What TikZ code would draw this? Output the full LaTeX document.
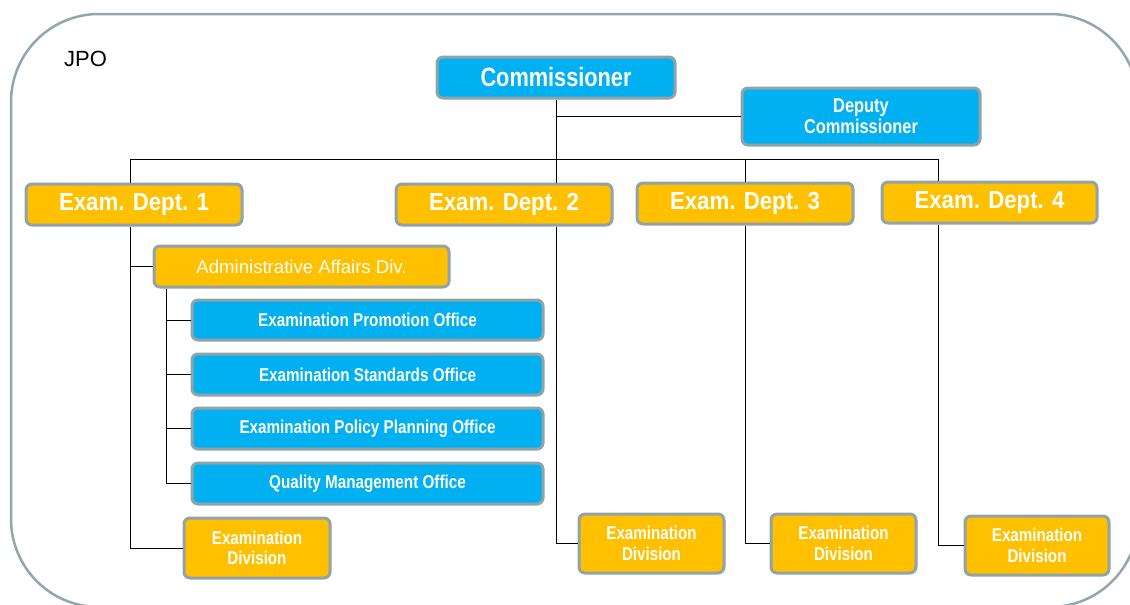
\documentclass[tikz,border=0pt]{standalone}
\usepackage{fontspec}
\setmainfont{Liberation Sans}
\newfontfamily\condb[FakeStretch=0.82]{Liberation Sans}
\newfontfamily\condd[FakeStretch=0.9]{Liberation Sans}
\definecolor{boxblue}{HTML}{00B0F0}
\definecolor{boxyellow}{HTML}{FFC000}
\definecolor{boxedge}{HTML}{8FA3A8}
\definecolor{outeredge}{HTML}{8FA8AD}
\tikzset{
  box/.style={rectangle, rounded corners=6pt, draw=boxedge, line width=3pt, inner sep=0pt, text=white, align=center},
  bluebox/.style={box, fill=boxblue},
  yelbox/.style={box, fill=boxyellow},
  conn/.style={draw=black, line width=1pt},
  fcomm/.style={font=\condb\bfseries\fontsize{26.5}{30}\selectfont},
  fdep/.style={font=\condb\bfseries\fontsize{20}{21}\selectfont},
  fdept/.style={font=\condd\bfseries\fontsize{24.7}{28}\selectfont},
  foff/.style={font=\condb\bfseries\fontsize{18.6}{20}\selectfont},
  fdiv/.style={font=\condb\bfseries\fontsize{18.5}{20.5}\selectfont},
  fadm/.style={font=\fontsize{18.6}{20}\selectfont},
}
\begin{document}
\begin{tikzpicture}[x=1pt,y=-1pt]
\useasboundingbox (0,0) rectangle (1130,605);
\draw[outeredge, line width=2.5pt, rounded corners=88pt] (11,14) rectangle (1138,607);
\node[text=black, inner sep=0pt, font=\fontsize{22}{24}\selectfont] (jpo) at (85.5,58.5) {JPO};

% connectors (drawn first, under the boxes)
\coordinate (busL) at (130,159);
\coordinate (busR) at (938,159);
\coordinate (ax) at (166,0);

\node[bluebox, fcomm, minimum width=238pt, minimum height=41pt] (comm) at (556,77.5) {Commissioner};
\node[bluebox, fdep, minimum width=238pt, minimum height=57pt] (dep) at (861,116.5) {Deputy\\Commissioner};

\node[yelbox, fdept, minimum width=216pt, minimum height=41pt] (d1) at (134,204.5) {Exam. Dept. 1};
\node[yelbox, fdept, minimum width=216pt, minimum height=41pt] (d2) at (504,204.5) {Exam. Dept. 2};
\node[yelbox, fdept, minimum width=216pt, minimum height=41pt] (d3) at (745,203.5) {Exam. Dept. 3};
\node[yelbox, fdept, minimum width=215pt, minimum height=41pt] (d4) at (989.5,202.5) {Exam. Dept. 4};

\node[yelbox, fadm, minimum width=295pt, minimum height=41pt] (adm) at (301.5,266.5) {Administrative Affairs Div.};

\node[bluebox, foff, minimum width=351pt, minimum height=40pt] (o1) at (367.5,320) {Examination Promotion Office};
\node[bluebox, foff, minimum width=351pt, minimum height=41pt] (o2) at (367.5,374.5) {Examination Standards Office};
\node[bluebox, foff, minimum width=351pt, minimum height=41pt] (o3) at (367.5,428.5) {Examination Policy Planning Office};
\node[bluebox, foff, minimum width=351pt, minimum height=41pt] (o4) at (367.5,483.5) {Quality Management Office};

\node[yelbox, fdiv, minimum width=146pt, minimum height=60pt] (ed1) at (257,548) {Examination\\Division};
\node[yelbox, fdiv, minimum width=145pt, minimum height=59pt] (ed2) at (651.5,543.5) {Examination\\Division};
\node[yelbox, fdiv, minimum width=145pt, minimum height=59pt] (ed3) at (843.5,543.5) {Examination\\Division};
\node[yelbox, fdiv, minimum width=144pt, minimum height=59pt] (ed4) at (1037,545.5) {Examination\\Division};

\draw[conn] (comm.south) -- (comm.south |- d2.north);
\draw[conn] (comm.south |- dep.west) -- (dep.west);
\draw[conn] (busL |- d1.north) -- (busL) -- (busR) -- (busR |- d4.north);
\draw[conn] (d3.north |- busL) -- (d3.north);
\draw[conn] (busL |- d1.south) |- (ed1.west);
\draw[conn] (busL |- adm.west) -- (adm.west);
\draw[conn] (ax |- adm.south) |- (o4.west);
\draw[conn] (ax |- o1.west) -- (o1.west);
\draw[conn] (ax |- o2.west) -- (o2.west);
\draw[conn] (ax |- o3.west) -- (o3.west);
\draw[conn] (comm.south |- d2.south) |- (ed2.west);
\draw[conn] (d3.south) |- (ed3.west);
\draw[conn] (busR |- d4.south) |- (ed4.west);
\end{tikzpicture}
\end{document}
